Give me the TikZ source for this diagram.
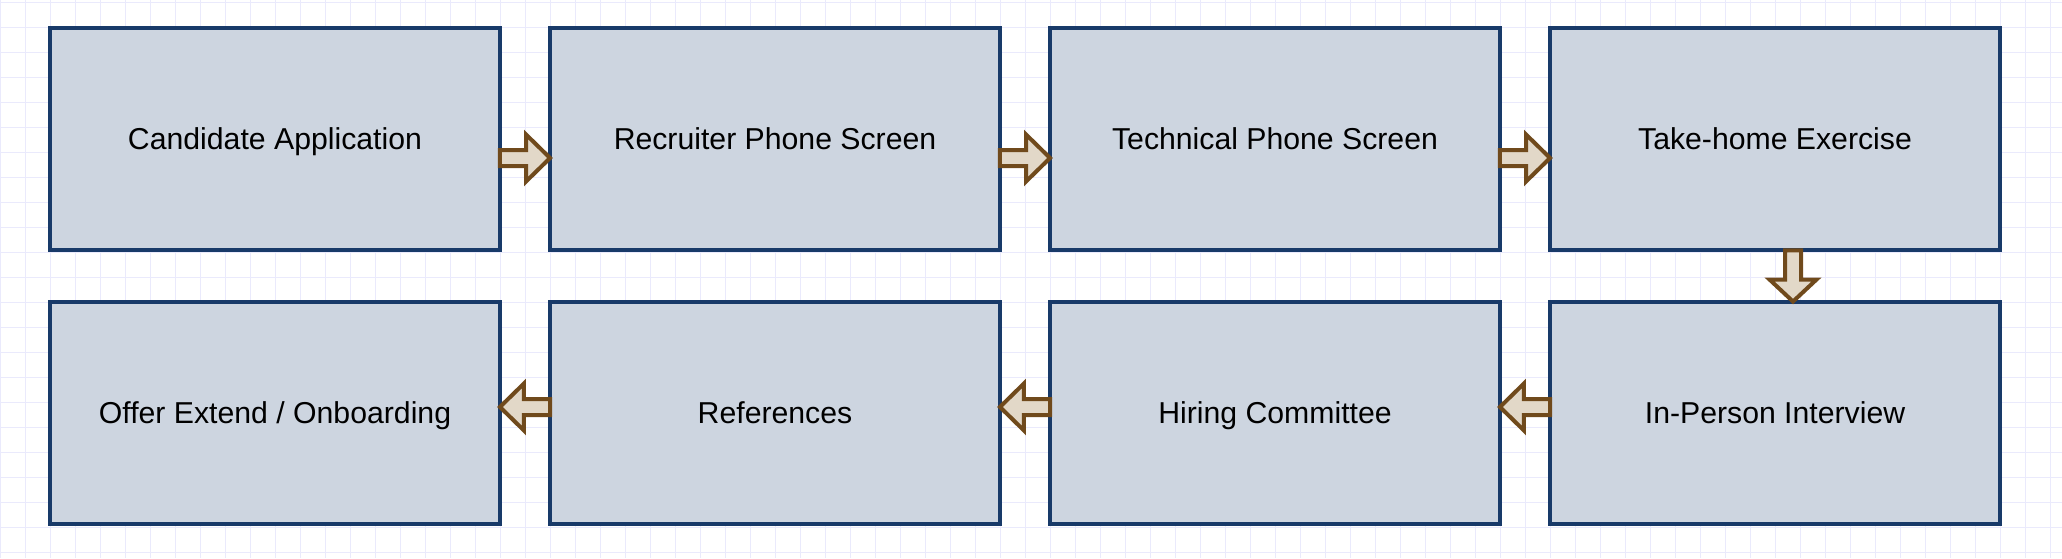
\documentclass[tikz,border=0pt]{standalone}
\usepackage{fontspec}
\setmainfont{Liberation Sans}
\usepackage{xcolor}
\usepackage{tikz}
\usetikzlibrary{calc}

\definecolor{boxfill}{RGB}{205,213,224}
\definecolor{boxline}{RGB}{24,58,105}
\definecolor{arrowfill}{RGB}{226,216,200}
\definecolor{arrowline}{RGB}{112,74,28}
\definecolor{gridcol}{RGB}{234,234,252}

\begin{document}
\begin{tikzpicture}[x=0.02cm, y=-0.02cm,
    stage/.style={draw=boxline, fill=boxfill, line width=0.08cm, outer sep=0pt,
      minimum width=9cm, minimum height=4.46cm,
      text height=11.8pt, text depth=0pt,
      font=\fontsize{17.2}{20}\selectfont},
    flowarrow/.style={draw=arrowline, fill=arrowfill, line width=0.08cm, line join=miter},
    gridline/.style={draw=gridcol, line width=0.02cm}]
  \useasboundingbox (0,0) rectangle (2062,558);

  % background grid
  \foreach \i in {0,...,82}{
    \draw[gridline] (\i*25,0) -- (\i*25,558);
  }
  \foreach \j in {0,...,22}{
    \draw[gridline] (0,2.5+\j*25) -- (2062,2.5+\j*25);
  }

  % top row
  \node[stage] (app)        at (275,139)  {Candidate Application};
  \node[stage] (recruit)    at (775,139)  {Recruiter Phone Screen};
  \node[stage] (techscreen) at (1275,139) {Technical Phone Screen};
  \node[stage] (takehome)   at (1775,139) {Take-home Exercise};

  % bottom row
  \node[stage] (interview)  at (1775,413) {In-Person Interview};
  \node[stage] (committee)  at (1275,413) {Hiring Committee};
  \node[stage] (refs)       at (775,413)  {References};
  \node[stage] (offer)      at (275,413)  {Offer Extend / Onboarding};

  % arrows to the right
  \foreach \a/\b in {app/recruit, recruit/techscreen, techscreen/takehome}{
    \draw[flowarrow] ($(\a.east)+(0,11)$) -- ($(\b.west)+(-24,11)$)
      -- ($(\b.west)+(-24,-4.5)$) -- ($(\b.west)+(0,19)$)
      -- ($(\b.west)+(-24,42.5)$) -- ($(\b.west)+(-24,27)$)
      -- ($(\a.east)+(0,27)$) -- cycle;
  }

  % arrow down
  \draw[flowarrow] ($(takehome.south)+(10,0)$) -- ($(interview.north)+(10,-22)$)
    -- ($(interview.north)+(-5.5,-22)$) -- ($(interview.north)+(18,0)$)
    -- ($(interview.north)+(41.5,-22)$) -- ($(interview.north)+(26,-22)$)
    -- ($(takehome.south)+(26,0)$) -- cycle;

  % arrows to the left
  \foreach \a/\b in {interview/committee, committee/refs, refs/offer}{
    \draw[flowarrow] ($(\a.west)+(0,-14)$) -- ($(\b.east)+(24,-14)$)
      -- ($(\b.east)+(24,-29.5)$) -- ($(\b.east)+(0,-6)$)
      -- ($(\b.east)+(24,17.5)$) -- ($(\b.east)+(24,2)$)
      -- ($(\a.west)+(0,2)$) -- cycle;
  }
\end{tikzpicture}
\end{document}
